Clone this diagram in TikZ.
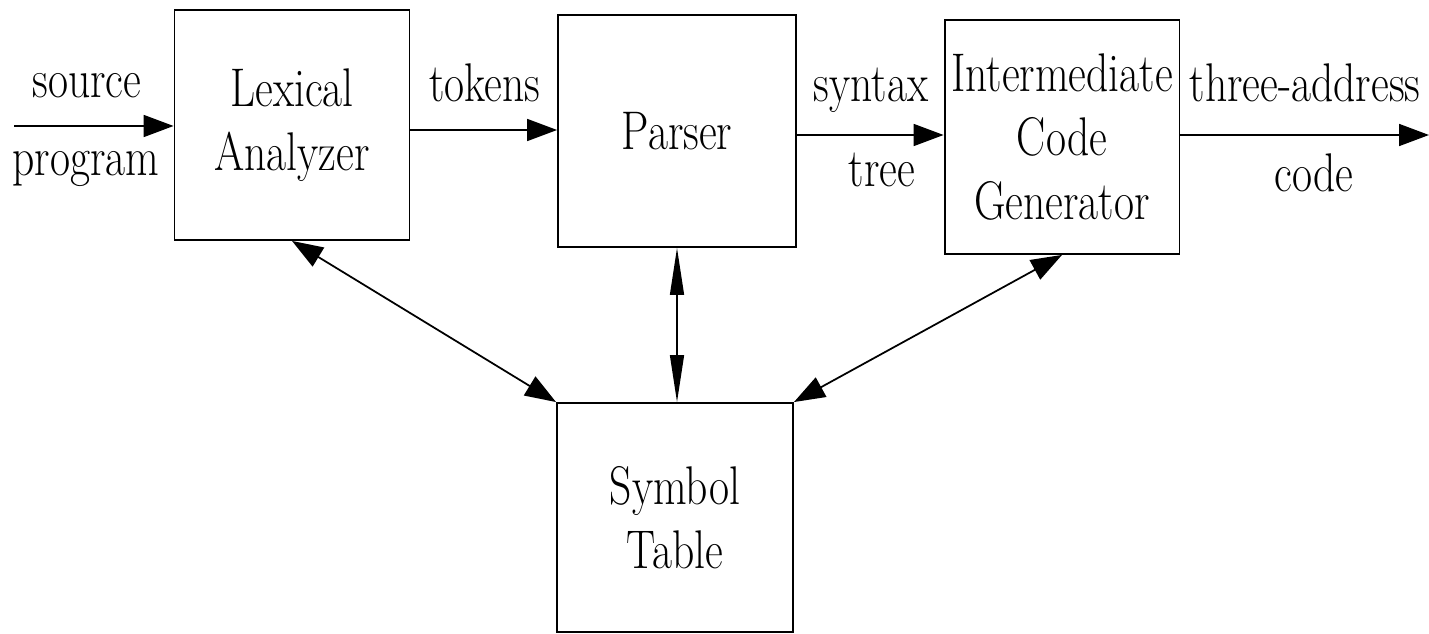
\documentclass[tikz,border=0pt]{standalone}
\usepackage{fontspec}
\usetikzlibrary{arrows.meta}
% tall, narrow serif for all labels
\newfontfamily\labelfont{lmroman17-regular.otf}[FakeStretch=0.8]
\begin{document}
\begin{tikzpicture}[x=0.02cm, y=-0.02cm,
  txt/.style={font=\labelfont\fontsize{31}{36.5}\selectfont, align=center, inner sep=0pt},
  blockbox/.style={draw, line width=1.1pt, txt},
  lbl/.style={txt, anchor=base},
  arr/.style={line width=1pt, -{Triangle[length=0.6cm, width=0.44cm]}},
  darr/.style={line width=1pt, {Triangle[length=0.62cm, width=0.44cm]}-{Triangle[length=0.62cm, width=0.44cm]}},
  varr/.style={line width=0.8pt, {Triangle[length=0.94cm, width=0.28cm]}-{Triangle[length=0.94cm, width=0.28cm]}}
]
\useasboundingbox (0,0) rectangle (1429,634);

% processing stages
\node[blockbox, minimum width=4.7cm, minimum height=4.6cm] (lex) at (292,125) {Lexical\\Analyzer};
\node[blockbox, minimum width=4.76cm, minimum height=4.64cm] (par) at (677,131) {Parser};
\node[blockbox, minimum width=4.7cm, minimum height=4.68cm] (icg) at (1062,137) {Intermediate\\Code\\Generator};
\node[blockbox, minimum width=4.72cm, minimum height=4.58cm] (sym) at (675,517.5) {Symbol\\Table};

% free ends and levels of the horizontal flow
\coordinate (src) at (14,126);
\coordinate (tk) at (480,130);
\coordinate (st) at (870,135);
\coordinate (out) at (1429,135);

% main flow
\draw[arr] (src) -- (lex.west |- src);
\draw[arr] (lex.east |- tk) -- (par.west |- tk);
\draw[arr] (par.east |- st) -- (icg.west |- st);
\draw[arr] (icg.east |- st) -- (out);

% symbol table access
\draw[darr] (lex.south) -- (sym.north west);
\draw[varr] (par.south) -- (par.south |- sym.north);
\draw[darr] (icg.south) -- (sym.north east);

% edge labels
\node[lbl] (l1) at (87,98) {source};
\node[lbl] (l2) at (86,176) {program};
\node[lbl] (l3) at (485,102) {tokens};
\node[lbl] (l4) at (871,102) {syntax};
\node[lbl] (l5) at (882,187) {tree};
\node[lbl] (l6) at (1305,102) {three-address};
\node[lbl] (l7) at (1314,192) {code};
\end{tikzpicture}
\end{document}
